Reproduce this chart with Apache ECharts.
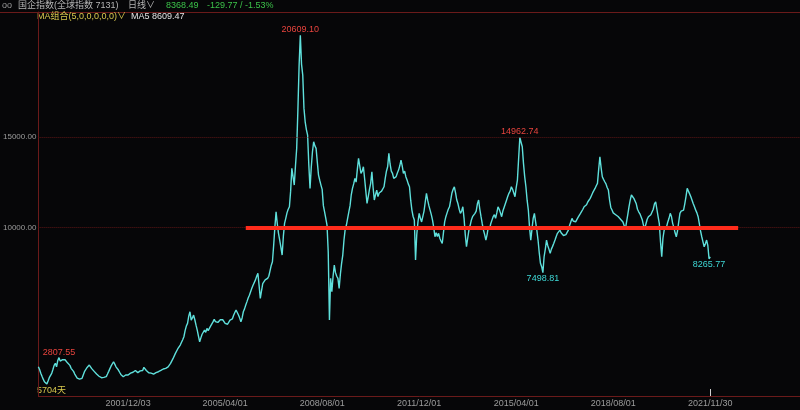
<!DOCTYPE html>
<html><head><meta charset="utf-8">
<script src="https://cdn.jsdelivr.net/npm/echarts@6/dist/echarts.min.js"></script>
<style>html,body{margin:0;padding:0;background:#060608;}#c{width:800px;height:410px;}</style>
</head><body><div id="c"></div>
<script>
// ---- data ----
const startYear = 1998, startMonth = 11;   // first half-month slot
const tickLabels = ['2001/12/03','2005/04/01','2008/08/01','2011/12/01','2015/04/01','2018/08/01','2021/11/30'];
const yTickValues = [10000, 15000];
const closes = [
2305,2150,1950,1780,1620,1480,1400,1350,1520,1700,1640,1941,2150,2380,2493,2300,2650,2807.55,2620,2581,2700,2800,2690,2600,
2520,2493,2380,2217,2140,2050,1902,1800,1680,1571,1620,1600,1665,1850,2030,2100,2250,2300,2399,2300,2200,2123,2050,1980,
1900,1847,1780,1720,1700,1665,1720,1800,1760,1902,2050,2200,2350,2450,2581,2450,2300,2200,2123,2000,1880,1800,1753,1790,
1847,1820,1847,1900,1950,1920,2000,2030,2100,2000,1980,2030,2080,2150,2100,2270,2200,2100,2050,1974,2000,1950,1920,1902,
1930,1980,1960,2030,2060,2100,2150,2180,2140,2217,2250,2300,2350,2493,2600,2750,2850,3045,3150,3300,3250,3503,3600,3800,
3961,4300,4550,4701,5100,5341,4883,5000,5159,4900,4600,4331,4000,3685,3900,4100,4000,4331,4200,4425,4300,4425,4550,4650,
4780,4922,4800,4870,4750,4789,4900,4977,4900,4800,4700,4607,4650,4750,4883,4800,4950,5150,5300,5435,5300,5159,5000,4789,
5000,5341,5500,5711,5900,6100,6250,6445,6633,6800,6909,7100,7300,7461,6800,6081,6500,6900,7000,7100,7050,7185,7300,7600,
7900,8101,9000,10000,10861,10200,9669,9300,8900,8471,9500,10221,10500,10800,11000,11137,12000,13257,12800,12335,13400,14361,16500,18959,
20609.10,19000,18407,16569,15829,15400,15095,13439,12153,13300,14173,14725,14500,14361,13600,12887,12600,12335,12100,11200,10861,10500,10127,8653,
4883,7185,6445,7300,7919,7500,7300,7185,6633,7400,8000,8471,9300,9900,10127,10500,10861,11200,11800,12153,12400,12705,12500,13200,
13809,13400,12981,13100,13349,12700,12000,11325,11700,12100,12429,13073,12200,11509,11800,12059,11700,11900,11877,12000,12100,12241,12700,13100,
13349,14085,13500,13100,12981,12700,12611,12800,13000,13163,13400,13715,13400,12981,13100,12800,12611,12400,12241,11500,10955,10600,10403,8195,
9600,10300,10773,10500,10300,10403,10900,11400,11877,11500,11200,10955,10700,10403,10000,9481,9700,9500,9669,9400,9250,9117,9700,10300,
10589,10800,11000,11137,11500,11900,12100,12241,11900,11509,11300,11000,10773,10900,11137,10500,9600,8929,9400,9851,10100,10400,10589,10500,
10773,10900,11300,11509,11000,10589,10200,9851,9600,9299,9600,10033,9900,10200,10400,10589,10700,10500,10800,11137,11000,10800,10589,10900,
11100,11137,11500,11700,11877,12000,12241,12100,11900,11693,12200,12611,13800,14962.74,14700,14449,13533,12800,12241,11500,10955,10000,9299,9900,
10500,10773,10300,9851,9300,8600,8013,7827,7498.81,8377,8800,9299,9000,8800,8565,8800,8950,9117,9300,9500,9669,9750,9851,9700,
9600,9550,9481,9600,9700,9851,10100,10300,10497,10350,10450,10300,10403,10550,10650,10773,10850,11000,11137,11050,11250,11400,11500,11601,
11750,11900,11969,12150,12300,12429,13200,13897,13300,12793,12650,12517,12400,12200,12059,11500,11100,10955,10800,10900,10700,10773,10600,10650,
10450,10497,10300,10100,9900,9851,10700,11137,11500,11785,11700,11600,11509,11300,11000,10861,10750,10679,10400,10100,9945,10200,10450,10589,
10650,10700,10773,11000,11300,11413,11000,10589,10200,9200,8377,9400,9851,9900,10033,10300,10500,10773,10600,10221,10000,9700,9481,9800,
10300,10773,10900,10800,10955,11300,11700,12153,12000,11850,11693,11500,11300,11137,10950,10800,10589,10200,9800,9481,9200,8929,9100,9299,
9000,8265.77,8368.49
];
const notes = [
  {value: 20609.10, side: 'top',    color: '#e8443e'},
  {value: 14962.74, side: 'top',    color: '#e8443e'},
  {value: 2807.55,  side: 'top',    color: '#e8443e'},
  {value: 7498.81,  side: 'bottom', color: '#3fd8d6'},
  {value: 8265.77,  side: 'bottom', color: '#3fd8d6'}
];
const levelLine = {value: 10000, from: '2005/12/16', to: '2022/11/16'};
const header = {name: '国企指数(全球指数 7131)', period: '日线∨', last: '8368.49', change: '-129.77 / -1.53%', ma: 'MA组合(5,0,0,0,0,0)∨', ma5: 'MA5 8609.47', days: '5704天'};

// ---- build categories (half-month slots, padded to the right edge) ----
const totalSlots = 629;
function slotDate(k) {
  const off = Math.floor(k / 2);
  const y = startYear + Math.floor((startMonth - 1 + off) / 12);
  const mo = (startMonth - 1 + off) % 12 + 1;
  const d = k % 2 ? 16 : 1;
  return y + '/' + String(mo).padStart(2, '0') + '/' + String(d).padStart(2, '0');
}
const cats = [];
for (let k = 0; k < totalSlots; k++) cats.push(slotDate(k));
tickLabels.forEach(t => {
  const [y, mo, d] = t.split('/').map(Number);
  const k = ((y - startYear) * 12 + (mo - startMonth)) * 2 + Math.round((d - 1) / 15);
  cats[k] = t;
});
const lastIndex = closes.length - 1;

const FONT = "'Liberation Sans','Noto Sans CJK SC',sans-serif";
const chart = echarts.init(document.getElementById('c'));
chart.setOption({
  backgroundColor: '#060608',
  animation: false,
  grid: {left: 37, right: 0, top: 12, bottom: 14, containLabel: false},
  xAxis: {
    type: 'category', data: cats, boundaryGap: false,
    axisLine: {show: true, lineStyle: {color: '#6a1a1a', width: 1}},
    axisTick: {show: true, inside: true, length: 7, interval: (i) => i === lastIndex, lineStyle: {color: '#d0d0d0', width: 1}},
    axisLabel: {interval: (i, v) => tickLabels.includes(v), color: '#9c9c9c', fontSize: 9, fontFamily: FONT, margin: 3, showMinLabel: true, showMaxLabel: true},
    splitLine: {show: false}
  },
  yAxis: {
    type: 'value', min: 690, max: 21890, scale: true,
    axisLine: {show: true, lineStyle: {color: '#6a1a1a', width: 1}},
    axisTick: {show: false, customValues: yTickValues},
    axisLabel: {customValues: yTickValues, formatter: v => v.toFixed(2), color: '#9c9c9c', fontSize: 8, fontFamily: FONT, margin: 2},
    splitLine: {show: false}
  },
  graphic: [
    {type: 'line', shape: {x1: 0, y1: 12.5, x2: 800, y2: 12.5}, style: {stroke: '#6a1a1a', lineWidth: 1}, silent: true},
    {type: 'text', left: 2, top: 1, style: {text: 'oo', fill: '#9a9a9a', font: '9px ' + FONT}},
    {type: 'text', left: 18, top: 1, style: {text: header.name, fill: '#b4b4b4', font: '9px ' + FONT}},
    {type: 'text', left: 128, top: 1, style: {text: header.period, fill: '#b4b4b4', font: '9px ' + FONT}},
    {type: 'text', left: 166, top: 1, style: {text: header.last, fill: '#3cc24a', font: '9px ' + FONT}},
    {type: 'text', left: 207, top: 1, style: {text: header.change, fill: '#3cc24a', font: '9px ' + FONT}},
    {type: 'text', left: 37, top: 12, style: {text: header.ma, fill: '#d9c94e', font: '9px ' + FONT}},
    {type: 'text', left: 131, top: 12, style: {text: header.ma5, fill: '#e2e2e2', font: '9px ' + FONT}},
    {type: 'text', left: 37, top: 386, style: {text: header.days, fill: '#d9c94e', font: '9px ' + FONT}}
  ],
  series: [
    {
      type: 'line', data: [], z: 1, silent: true,
      markLine: {
        silent: true, symbol: 'none', animation: false, label: {show: false},
        lineStyle: {color: '#5c1616', type: 'dotted', width: 1},
        data: yTickValues.map(v => ({yAxis: v}))
      }
    },
    {
      type: 'line', data: closes, z: 3, showSymbol: false, symbol: 'none',
      lineStyle: {color: '#5fe0dc', width: 1.4},
      markPoint: {
        symbol: 'circle', symbolSize: 0, animation: false,
        data: notes.map(n => ({
          coord: [cats[closes.indexOf(n.value)], n.value], value: n.value,
          label: {show: true, position: n.side, distance: 1, color: n.color, fontSize: 9, fontFamily: FONT, formatter: n.value.toFixed(2)}
        }))
      },
      markLine: {
        silent: true, symbol: 'none', animation: false, label: {show: false},
        lineStyle: {color: '#ff2b1b', width: 4, type: 'solid', opacity: 1},
        data: [[{coord: [levelLine.from, levelLine.value]}, {coord: [levelLine.to, levelLine.value]}]]
      }
    }
  ]
});
</script>
</body></html>
